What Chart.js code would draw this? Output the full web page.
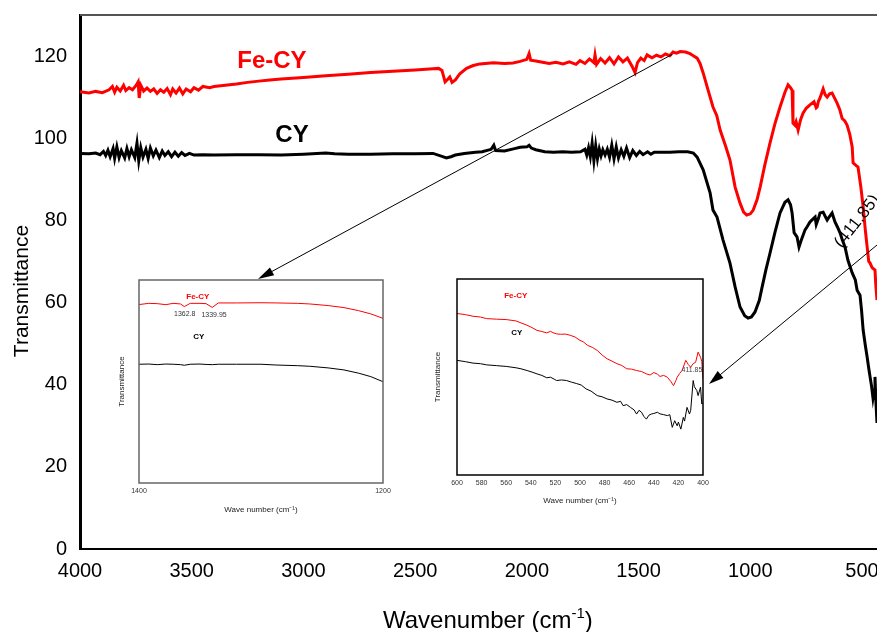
<!DOCTYPE html>
<html>
<head>
<meta charset="utf-8">
<script src="https://cdn.jsdelivr.net/npm/chart.js@4"></script>
<style>
body { margin: 0; background: #fff; }
#wrap { position: relative; width: 877px; height: 632px; overflow: hidden; }
canvas { position: absolute; }
</style>
</head>
<body>
<div id="wrap">
  <canvas id="main" width="877" height="632" style="left:0;top:0"></canvas>
  <canvas id="in1" width="300" height="250" style="left:100px;top:270px"></canvas>
  <canvas id="in2" width="300" height="250" style="left:420px;top:270px"></canvas>
</div>
<script>
// ---- main spectrum : wavenumber (cm-1) / transmittance ----
var feWn = [4000,3960,3930,3900,3870,3855,3845,3835,3820,3805,
            3795,3780,3765,3750,3740,3735,3728,3715,3700,3685,
            3670,3655,3640,3625,3610,3595,3585,3570,3555,3540,
            3525,3505,3490,3470,3450,3420,3400,3350,3300,3250,
            3200,3150,3100,3000,2900,2800,2700,2600,2500,2420,
            2395,2380,2366,2355,2345,2335,2320,2300,2270,2240,
            2210,2150,2100,2062,2030,2000,1990,1983,1960,1930,
            1900,1870,1838,1810,1780,1762,1740,1720,1700,1695,
            1688,1670,1650,1630,1610,1590,1570,1550,1530,1516,
            1505,1490,1475,1462,1440,1420,1400,1380,1360,1346,
            1330,1314,1290,1270,1255,1238,1225,1211,1189,1167,
            1150,1135,1110,1091,1068,1046,1030,1016,1000,987,
            970,956,935,912,890,867,845,831,820,813,
            809,800,795,786,775,764,750,733,715,705,
            701,695,688,674,665,656,645,634,625,612,
            600,589,577,567,555,544,540,530,518,505,
            495,485,477,470,464,455,442,438,433];
var feT = [111.3,111.0,111.4,111.1,111.8,112.6,111.2,112.4,111.5,112.9,
           111.6,112.3,111.8,112.8,113.7,109.8,112.9,111.5,112.2,111.4,
           112.0,110.9,111.8,111.2,112.1,110.6,112.0,111.0,112.2,110.8,
           112.0,111.3,112.3,111.7,112.6,112.3,112.6,112.9,113.2,113.6,
           113.9,114.2,114.4,114.8,115.2,115.6,116.0,116.3,116.6,116.9,
           117.0,116.5,113.7,114.3,114.9,113.6,114.2,115.7,117.0,117.7,
           118.1,118.4,118.2,118.3,118.7,119.2,120.6,119.0,118.8,118.5,
           118.2,118.5,118.1,118.6,118.0,118.9,118.2,119.3,118.4,120.3,
           118.0,119.4,118.3,119.6,118.1,119.8,118.6,119.5,117.6,116.0,
           118.4,119.5,118.9,120.3,119.6,120.2,119.8,120.5,120.1,121.0,
           120.7,121.1,121.0,120.6,120.1,119.5,118.2,115.9,111.7,107.6,
           105.5,102.0,98.0,94.7,88.1,84.2,82.0,81.3,81.6,82.5,
           85.0,88.1,93.5,98.8,103.5,107.6,111.2,113.0,112.3,111.7,
           103.7,103.2,104.0,102.0,104.5,106.1,107.3,108.1,108.9,107.4,
           107.6,109.0,109.8,112.0,110.6,110.0,110.8,111.0,110.0,108.6,
           107.0,104.8,104.2,103.2,101.0,97.9,94.0,93.5,93.0,88.0,
           83.3,77.5,73.5,70.0,69.6,68.5,67.9,64.0,60.6];

var cyWn = [4000,3960,3930,3910,3895,3885,3875,3865,3852,3845,
            3835,3825,3815,3800,3790,3780,3770,3755,3745,3737,
            3728,3718,3705,3695,3685,3672,3660,3645,3632,3620,
            3605,3590,3575,3560,3545,3530,3510,3490,3450,3400,
            3300,3200,3100,3000,2900,2860,2800,2700,2600,2500,
            2420,2380,2360,2340,2320,2280,2230,2200,2160,2148,
            2140,2100,2060,2030,2000,1990,1980,1960,1920,1880,
            1840,1800,1760,1740,1732,1724,1716,1708,1700,1692,
            1684,1676,1668,1660,1650,1640,1630,1620,1610,1600,
            1590,1578,1566,1554,1540,1526,1510,1495,1480,1460,
            1445,1430,1400,1360,1320,1280,1255,1238,1211,1180,
            1167,1149,1122,1091,1068,1046,1025,1010,995,979,
            960,947,930,912,890,867,845,831,820,813,
            804,791,782,770,755,745,733,720,710,705,
            701,695,688,674,665,656,645,634,621,610,
            598,588,576,563,544,530,522,509,502,495,
            485,477,470,464,457,451,446,442,438,433];
var cyT = [96.3,96.2,96.4,96.0,96.8,95.8,97.1,95.5,97.5,95.1,
           97.9,95.3,97.0,95.2,97.5,95.5,97.2,95.3,98.8,94.5,
           97.7,95.4,97.3,95.1,97.6,95.7,97.1,95.3,96.9,95.8,
           96.7,95.5,96.6,95.6,96.5,95.8,96.3,95.9,96.0,95.9,
           96.0,96.0,95.9,96.1,96.4,96.2,96.1,96.1,96.2,96.2,
           96.3,95.6,95.2,95.5,95.9,96.3,96.6,96.7,97.3,98.3,
           97.0,96.9,97.4,97.8,97.9,98.3,97.6,97.2,96.7,96.6,
           96.7,96.6,96.7,97.3,95.9,97.7,95.5,98.8,94.5,98.2,
           95.0,97.4,95.7,97.2,95.9,97.3,95.4,98.3,95.0,97.9,
           95.2,97.2,95.6,97.6,95.3,97.0,95.8,96.8,96.0,96.7,
           96.1,96.6,96.6,96.6,96.7,96.7,96.4,95.4,92.3,86.7,
           82.5,80.8,75.2,69.6,63.8,58.9,56.8,56.2,56.5,57.7,
           60.5,63.8,68.0,72.0,77.0,81.8,84.4,85.0,83.8,81.8,
           77.0,76.0,73.5,75.5,77.7,78.5,79.6,80.3,80.8,79.0,
           79.6,80.5,81.8,82.0,81.0,80.1,81.0,81.8,79.6,78.4,
           76.9,75.2,73.5,70.3,67.2,65.5,63.0,61.8,58.0,53.3,
           49.5,46.7,44.0,41.9,39.5,36.8,38.5,41.9,36.0,30.7];

var xTicks = [4000, 3500, 3000, 2500, 2000, 1500, 1000, 500];
var yTicks = [0, 20, 40, 60, 80, 100, 120];

// ---- inset 1 : 1400-1200 cm-1 ----
var in1Wn = [1400,1392,1385,1378,1372,1366,1362.8,1358,1350,1345,1339.95,1335,1320,1300,1287,1270,1260,1245,1232,1220,1210,1200];
var in1Fe = [87.9,88.5,88.35,87.85,88.5,88.2,86.9,88.5,88.5,88.35,86.5,88.7,88.7,88.8,88.7,88.5,88.2,87.4,86.4,84.9,83.3,81.1];
var in1Cy = [58.5,58.6,58.3,58.6,58.5,58.3,58.0,58.5,58.6,58.4,58.3,58.5,58.5,58.5,58.1,57.8,57.5,56.7,55.7,54.1,52.4,49.9];
var in1Ticks = [1400, 1200];

// ---- inset 2 : 600-400 cm-1 ----
var in2FeWn = [600,593,587,581,576,568,560,552,548,543,539,535,531,527,524,522,519,516,512,508,
               504,500,497,494,490,486,482,478,474,470,466,462,458,454,450,446,443,440,437,435,
               432,429,426,424,422,421,419,417,414,412,410,408,406,404,402,401,400];
var in2Fe = [82.4,81.8,81.0,80.6,79.8,79.5,79.3,78.6,77.6,76.4,75.2,73.8,73.2,72.5,73.3,72.6,72.0,71.8,71.9,71.3,
             70.4,68.7,67.8,66.2,65.1,63.6,61.2,59.3,58.1,56.8,55.9,54.2,54.0,53.3,52.8,51.6,51.0,52.3,51.4,50.3,
             50.8,49.9,47.6,45.6,48.2,49.9,51.8,53.3,58.5,56.4,55.0,56.8,57.5,62.7,60.1,58.0,49.1];
var in2CyWn = [600,593,587,581,576,568,560,552,548,543,539,535,531,527,524,521,519,515,511,507,
               503,499,495,491,486,482,478,474,470,467,465,462,459,456,454,452,450,448,446,444,
               442,440,437,435,432,429,427,425,423,421,420,418,416,415,413,411,410,408,407,405,
               404,402,401,400];
var in2Cy = [58.5,57.8,57.1,56.8,56.2,55.8,55.4,54.7,54.2,53.3,52.5,51.6,50.8,49.6,49.9,48.9,48.2,48.5,48.2,47.4,
             46.7,45.9,43.9,42.8,40.5,39.9,38.8,38.2,37.1,37.6,35.4,35.9,34.5,33.2,31.1,33.0,32.0,29.8,28.5,30.5,
             31.1,31.4,32.0,31.2,30.8,30.3,30.8,24.3,27.7,25.1,27.0,23.4,29.4,27.5,34.5,31.1,33.0,48.2,45.0,43.1,
             40.5,44.8,36.2,37.0];
var in2Ticks = [600,580,560,540,520,500,480,460,440,420,400];

var FONT = "'Liberation Sans', Arial, sans-serif";
Chart.defaults.font.family = FONT;
Chart.defaults.color = '#000';

function pts(xs, ys) {
    return xs.map(function (x, i) { return { x: x, y: ys[i] }; });
}
function tickList(list) {
    return function (s) { s.ticks = list.map(function (v) { return { value: v }; }); };
}
function plain(v) { return String(v); }

// text notes placed in data coordinates
var notes = {
    id: 'notes',
    afterDatasetsDraw: function (chart, args, opts) {
        var ctx = chart.ctx, sx = chart.scales.x, sy = chart.scales.y;
        (opts.items || []).forEach(function (n) {
            ctx.save();
            ctx.translate(sx.getPixelForValue(n.x), sy.getPixelForValue(n.y));
            ctx.rotate((n.angle || 0) * Math.PI / 180);
            ctx.font = n.font;
            ctx.fillStyle = n.color || '#000';
            ctx.textAlign = n.align || 'center';
            ctx.textBaseline = 'middle';
            ctx.fillText(n.text, 0, 0);
            ctx.restore();
        });
    }
};

// box around inset plot area
var frame = {
    id: 'frame',
    afterDraw: function (chart, args, opts) {
        var a = chart.chartArea, ctx = chart.ctx;
        ctx.save();
        ctx.strokeStyle = opts.color;
        ctx.lineWidth = opts.width;
        ctx.strokeRect(a.left, a.top, a.right - a.left, a.bottom - a.top);
        ctx.restore();
    }
};

function arrow(ctx, x1, y1, x2, y2, len, half) {
    var a = Math.atan2(y2 - y1, x2 - x1), c = Math.cos(a), s = Math.sin(a);
    ctx.beginPath();
    ctx.moveTo(x1, y1);
    ctx.lineTo(x2 - len * c * 0.7, y2 - len * s * 0.7);
    ctx.stroke();
    ctx.beginPath();
    ctx.moveTo(x2, y2);
    ctx.lineTo(x2 - len * c + half * s, y2 - len * s - half * c);
    ctx.lineTo(x2 - len * c - half * s, y2 - len * s + half * c);
    ctx.closePath();
    ctx.fill();
}

// top frame line, axis titles and the two arrows of the main plot
var mainExtras = {
    id: 'mainExtras',
    afterDraw: function (chart) {
        var ctx = chart.ctx, a = chart.chartArea, sx = chart.scales.x, sy = chart.scales.y;
        ctx.save();
        ctx.strokeStyle = '#555';
        ctx.lineWidth = 2;
        ctx.beginPath();
        ctx.moveTo(a.left, a.top);
        ctx.lineTo(a.right, a.top);
        ctx.stroke();

        ctx.strokeStyle = '#000';
        ctx.fillStyle = '#000';
        ctx.lineWidth = 1;
        arrow(ctx, sx.getPixelForValue(1350), sy.getPixelForValue(120.4), 258, 279, 16, 4.5);
        arrow(ctx, sx.getPixelForValue(433), sy.getPixelForValue(74), 709, 384, 15, 4.5);

        // y title
        ctx.save();
        ctx.translate(22, 291);
        ctx.rotate(-Math.PI / 2);
        ctx.font = '21px ' + FONT;
        ctx.textAlign = 'center';
        ctx.textBaseline = 'middle';
        ctx.fillText('Transmittance', 0, 0);
        ctx.restore();

        // x title with superscript
        var x = 383, y = 628, t1 = 'Wavenumber (cm';
        ctx.textAlign = 'left';
        ctx.textBaseline = 'alphabetic';
        ctx.font = '24px ' + FONT;
        ctx.fillText(t1, x, y);
        x += ctx.measureText(t1).width;
        ctx.font = '15px ' + FONT;
        ctx.fillText('-1', x, y - 10);
        x += ctx.measureText('-1').width;
        ctx.font = '24px ' + FONT;
        ctx.fillText(')', x, y);
        ctx.restore();
    }
};

new Chart(document.getElementById('main'), {
    type: 'line',
    data: {
        datasets: [
            { label: 'Fe-CY', data: pts(feWn, feT), borderColor: '#ff0000', borderWidth: 3, pointRadius: 0, tension: 0 },
            { label: 'CY', data: pts(cyWn, cyT), borderColor: '#000000', borderWidth: 3, pointRadius: 0, tension: 0 }
        ]
    },
    options: {
        responsive: false,
        animation: false,
        events: [],
        layout: { padding: { top: 15, right: 0, left: 0, bottom: 0 } },
        plugins: {
            legend: { display: false },
            tooltip: { enabled: false },
            notes: {
                items: [
                    { text: 'Fe-CY', x: 3141, y: 118.8, font: 'bold 24px ' + FONT, color: '#ff0000' },
                    { text: 'CY', x: 3051, y: 100.8, font: 'bold 24px ' + FONT, color: '#000' },
                    { text: '(411.85)', x: 607, y: 73.8, angle: -52, align: 'left', font: '17px ' + FONT, color: '#000' }
                ]
            }
        },
        scales: {
            x: {
                type: 'linear', reverse: true, min: 433, max: 4000,
                grid: { display: false, drawTicks: false },
                border: { display: true, color: '#000', width: 2 },
                ticks: { font: { size: 20 }, padding: 10, maxRotation: 0, autoSkip: false, callback: plain },
                afterBuildTicks: tickList(xTicks),
                afterFit: function (s) { s.height = 83; s.paddingLeft = 0; s.paddingRight = 0; }
            },
            y: {
                min: 0, max: 130,
                grid: { display: false, drawTicks: false },
                border: { display: true, color: '#000', width: 3 },
                ticks: { font: { size: 20 }, padding: 13, callback: plain },
                afterBuildTicks: tickList(yTicks),
                afterFit: function (s) { s.width = 80; s.paddingTop = 0; s.paddingBottom = 0; }
            }
        }
    },
    plugins: [notes, mainExtras]
});

function makeInset(id, o) {
    return new Chart(document.getElementById(id), {
        type: 'line',
        data: { datasets: o.datasets },
        options: {
            responsive: false,
            animation: false,
            events: [],
            layout: { padding: { top: o.top, right: 17, left: 0, bottom: 0 } },
            plugins: {
                legend: { display: false },
                tooltip: { enabled: false },
                notes: { items: o.notes },
                frame: { color: o.frameColor, width: 1.5 }
            },
            scales: {
                x: {
                    type: 'linear', reverse: true, min: o.xMin, max: o.xMax,
                    grid: { display: false, drawTicks: false },
                    border: { display: false },
                    ticks: { font: { size: 7 }, color: '#333', padding: 4, maxRotation: 0, autoSkip: false, callback: plain },
                    title: { display: true, text: 'Wave number (cm\u207B\u00B9)', font: { size: 8 }, color: '#222',
                             padding: { top: 0, bottom: o.xTitlePad } },
                    afterBuildTicks: tickList(o.ticks),
                    afterFit: function (s) { s.height = o.xHeight; s.paddingLeft = 0; s.paddingRight = 0; }
                },
                y: {
                    min: 0, max: 100,
                    grid: { display: false, drawTicks: false },
                    border: { display: false },
                    ticks: { display: false },
                    title: { display: true, text: 'Transmittance', font: { size: 8 }, color: '#222',
                             padding: { top: o.yTitlePad, bottom: 0 } },
                    afterFit: function (s) { s.width = o.yWidth; s.paddingTop = 0; s.paddingBottom = 0; }
                }
            }
        },
        plugins: [notes, frame]
    });
}

makeInset('in1', {
    datasets: [
        { data: pts(in1Wn, in1Fe), borderColor: '#ff0000', borderWidth: 1, pointRadius: 0 },
        { data: pts(in1Wn, in1Cy), borderColor: '#000', borderWidth: 1, pointRadius: 0 }
    ],
    xMin: 1200, xMax: 1400, ticks: in1Ticks,
    top: 10, yWidth: 39, xHeight: 37, yTitlePad: 17, xTitlePad: 5, frameColor: '#666',
    notes: [
        { text: 'Fe-CY', x: 1351.8, y: 91.6, font: 'bold 8px ' + FONT, color: '#ff0000' },
        { text: '1362.8', x: 1362.5, y: 83.3, font: '7px ' + FONT, color: '#333' },
        { text: '1339.95', x: 1338.5, y: 82.8, font: '7px ' + FONT, color: '#333' },
        { text: 'CY', x: 1351, y: 71.9, font: 'bold 8px ' + FONT, color: '#000' }
    ]
});

makeInset('in2', {
    datasets: [
        { data: pts(in2FeWn, in2Fe), borderColor: '#ff0000', borderWidth: 1, pointRadius: 0 },
        { data: pts(in2CyWn, in2Cy), borderColor: '#000', borderWidth: 1, pointRadius: 0 }
    ],
    xMin: 400, xMax: 600, ticks: in2Ticks,
    top: 9, yWidth: 37, xHeight: 45, yTitlePad: 13, xTitlePad: 14, frameColor: '#000',
    notes: [
        { text: 'Fe-CY', x: 552.2, y: 91.3, font: 'bold 8px ' + FONT, color: '#ff0000' },
        { text: 'CY', x: 551.3, y: 72.3, font: 'bold 8px ' + FONT, color: '#000' },
        { text: '411.85', x: 409, y: 53.3, font: '7px ' + FONT, color: '#444' }
    ]
});
</script>
</body>
</html>
